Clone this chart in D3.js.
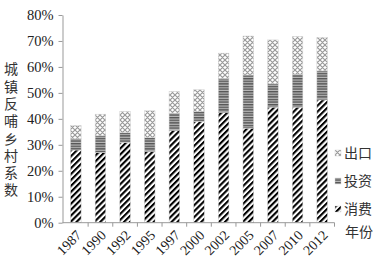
<!DOCTYPE html>
<html><head><meta charset="utf-8">
<script src="https://cdn.jsdelivr.net/npm/d3@7"></script>
<style>body{margin:0;background:#fff}svg{display:block}</style>
</head><body>
<svg id="c" width="382" height="265"></svg>
<script>
const years = ["1987","1990","1992","1995","1997","2000","2002","2005","2007","2010","2012"];
const consumption = [28.0, 27.0, 30.9, 27.4, 35.5, 39.0, 42.4, 36.4, 44.5, 44.5, 47.3];
const investment  = [4.3, 6.5, 3.8, 5.4, 6.7, 3.8, 13.2, 20.5, 9.0, 12.7, 11.2];
const exportv     = [5.1, 8.3, 8.1, 10.3, 8.3, 8.4, 9.7, 15.0, 16.9, 14.5, 12.9];
const yTicks = [0, 10, 20, 30, 40, 50, 60, 70, 80];
const seriesNames = ["消费", "投资", "出口"];
const yTitle = "城镇反哺乡村系数";
const xTitle = "年份";

const svg = d3.select("#c");
const defs = svg.append("defs");
// diagonal stripes
const p1 = defs.append("pattern").attr("id","pDiag").attr("patternUnits","userSpaceOnUse")
  .attr("width",4.2).attr("height",4.2).attr("patternTransform","rotate(45)");
p1.append("rect").attr("width",4.2).attr("height",4.2).attr("fill","#fff");
p1.append("rect").attr("width",2.1).attr("height",4.2).attr("fill","#000");
// horizontal stripes
const p2 = defs.append("pattern").attr("id","pHor").attr("patternUnits","userSpaceOnUse")
  .attr("width",4).attr("height",2.6);
p2.append("rect").attr("width",4).attr("height",2.6).attr("fill","#bbb");
p2.append("rect").attr("width",4).attr("height",1.4).attr("fill","#555");
// crosshatch
const p3 = defs.append("pattern").attr("id","pX").attr("patternUnits","userSpaceOnUse")
  .attr("width",5).attr("height",5);
p3.append("rect").attr("width",5).attr("height",5).attr("fill","#fff");
p3.append("path").attr("d","M0,0L5,5M5,0L0,5M-1,4L1,6M4,-1L6,1M4,6L6,4M-1,1L1,-1")
  .attr("stroke","#999").attr("stroke-width",1.2);
const fills = ["url(#pDiag)","url(#pHor)","url(#pX)"];

const x = d3.scaleBand().domain(years).range([63.5, 334.5]).paddingInner(0.57).paddingOuter(0.285);
const y = d3.scaleLinear().domain([0, 80]).range([222.7, 15]);

const data = years.map((yr,i)=>({year:yr, c:consumption[i], v:investment[i], e:exportv[i]}));
const stack = d3.stack().keys(["c","v","e"])(data);

const g = svg.append("g");
stack.forEach((s,k)=>{
  g.selectAll(null).data(s).enter().append("rect")
    .attr("x", d=>x(d.data.year))
    .attr("width", x.bandwidth())
    .attr("y", d=>y(d[1]))
    .attr("height", d=>y(d[0])-y(d[1]))
    .attr("fill", fills[k])
    .attr("stroke","#d0d0d0").attr("stroke-width",0.5);
});

// y axis
const ya = svg.append("g").attr("transform","translate(62.5,0)")
  .call(d3.axisLeft(y).tickValues(yTicks).tickFormat(d=>d+"%").tickSize(4).tickSizeOuter(0));
ya.select(".domain").attr("stroke","#999");
ya.selectAll(".tick line").attr("stroke","#999");
ya.selectAll(".tick text").attr("x",-9).attr("font-family","'Liberation Serif', serif").attr("font-size",14.5).attr("fill","#222");

// x axis
const xa = svg.append("g").attr("transform","translate(0,222.7)");
xa.append("line").attr("x1",62.5).attr("x2",334.5).attr("stroke","#999");
const bounds = years.map(yr=>x(yr)-x.step()*x.paddingInner()/2).concat([334.5]);
xa.selectAll(".t").data(bounds.slice(1)).enter().append("line")
  .attr("x1",d=>d).attr("x2",d=>d).attr("y1",0).attr("y2",4).attr("stroke","#999");
xa.selectAll(".lbl").data(years).enter().append("text")
  .attr("transform",d=>`translate(${x(d)+x.bandwidth()/2+3},${10}) rotate(-45)`)
  .attr("text-anchor","end").attr("dy","0.35em")
  .attr("font-family","'Liberation Serif', serif").attr("font-size",14).attr("fill","#222")
  .text(d=>d);

// y title vertical
svg.append("text").attr("x",11).attr("y",62)
  .attr("writing-mode","vertical-rl").attr("text-orientation","upright")
  .attr("letter-spacing",3.3)
  .attr("font-family","'Noto Sans CJK SC'").attr("font-size",14).attr("fill","#333")
  .text(yTitle);

// legend
const leg = [{n:seriesNames[2],f:fills[2],y:153},{n:seriesNames[1],f:fills[1],y:181},{n:seriesNames[0],f:fills[0],y:209}];
leg.forEach(l=>{
  svg.append("rect").attr("x",335).attr("y",l.y-3).attr("width",6).attr("height",6).attr("fill",l.f).attr("stroke","#ccc").attr("stroke-width",0.4);
  svg.append("text").attr("x",344).attr("y",l.y).attr("dy","0.35em")
    .attr("font-family","'Noto Sans CJK SC'").attr("font-size",14).attr("fill","#333").text(l.n);
});
svg.append("text").attr("x",359).attr("y",232).attr("dy","0.35em").attr("text-anchor","middle")
  .attr("font-family","'Noto Sans CJK SC'").attr("font-size",14).attr("fill","#333").text(xTitle);
</script>
</body></html>
